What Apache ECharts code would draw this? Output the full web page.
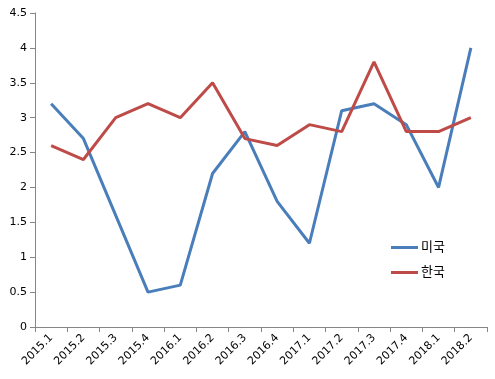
<!DOCTYPE html>
<html><head><meta charset="utf-8">
<script src="https://cdn.jsdelivr.net/npm/echarts@6/dist/echarts.min.js"></script>
<style>html,body{margin:0;padding:0;background:#fff}#c{width:495px;height:379px}</style>
</head><body><div id="c"></div>
<script>
const categories = ['2015.1','2015.2','2015.3','2015.4','2016.1','2016.2','2016.3','2016.4','2017.1','2017.2','2017.3','2017.4','2018.1','2018.2'];
const usValues = [3.2, 2.7, 1.6, 0.5, 0.6, 2.2, 2.8, 1.8, 1.2, 3.1, 3.2, 2.9, 2.0, 4.0];
const krValues = [2.6, 2.4, 3.0, 3.2, 3.0, 3.5, 2.7, 2.6, 2.9, 2.8, 3.8, 2.8, 2.8, 3.0];
const seriesNames = ['미국', '한국'];

const chart = echarts.init(document.getElementById('c'));
const font = 'Verdana, "DejaVu Sans", "Noto Sans CJK KR", sans-serif';
chart.setOption({
  animation: false,
  textStyle: {fontFamily: font},
  grid: {left: 35, right: 8, top: 13, bottom: 52, containLabel: false},
  legend: {
    orient: 'vertical', left: 391, top: 241, itemGap: 12, padding: 0,
    icon: 'rect', itemWidth: 27, itemHeight: 3,
    textStyle: {fontSize: 13, color: '#000', fontFamily: font, padding: [0, 0, 0, -2]},
    data: seriesNames
  },
  xAxis: {
    type: 'category', data: categories, boundaryGap: true,
    axisLine: {lineStyle: {color: '#868686'}},
    axisTick: {show: true, length: 5, lineStyle: {color: '#868686'}},
    axisLabel: {rotate: 45, fontSize: 11, color: '#000', margin: 9, interval: 0}
  },
  yAxis: {
    type: 'value', min: 0, max: 4.5, interval: 0.5,
    axisLine: {show: true, lineStyle: {color: '#868686'}},
    axisTick: {show: true, length: 5, lineStyle: {color: '#868686'}},
    splitLine: {show: false},
    axisLabel: {fontSize: 11, color: '#000', margin: 8}
  },
  series: [
    {name: seriesNames[0], type: 'line', data: usValues, symbol: 'none', lineStyle: {width: 3, color: '#4a7ebb'}, itemStyle: {color: '#4a7ebb'}},
    {name: seriesNames[1], type: 'line', data: krValues, symbol: 'none', lineStyle: {width: 3, color: '#be4b48'}, itemStyle: {color: '#be4b48'}}
  ]
});
</script></body></html>
